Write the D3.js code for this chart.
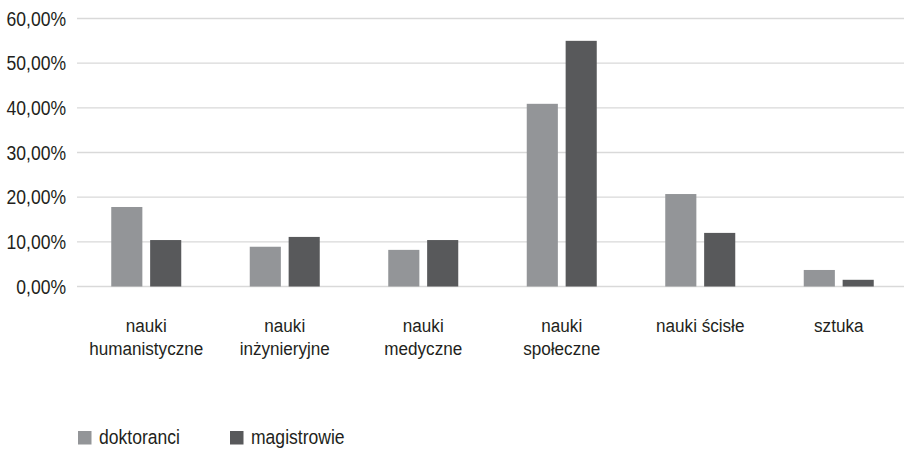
<!DOCTYPE html>
<html>
<head>
<meta charset="utf-8">
<script src="https://cdn.jsdelivr.net/npm/d3@7"></script>
<style>
  html, body { margin: 0; padding: 0; background: #fff; }
  svg text { font-family: "Liberation Sans", Arial, sans-serif; fill: #231f20; }
</style>
</head>
<body>
<svg id="chart" width="904" height="450"></svg>
<script>
// Category labels (each entry split into display lines)
const categories = [
  ["nauki", "humanistyczne"],
  ["nauki", "inżynieryjne"],
  ["nauki", "medyczne"],
  ["nauki", "społeczne"],
  ["nauki ścisłe"],
  ["sztuka"]
];
const seriesNames = ["doktoranci", "magistrowie"];
const doktoranci  = [17.8, 8.9, 8.2, 40.9, 20.7, 3.7];
const magistrowie = [10.4, 11.1, 10.4, 55.0, 12.0, 1.5];
const yTicks = [0, 10, 20, 30, 40, 50, 60];
const colors = ["#939598", "#58595b"];

const svg = d3.select("#chart");
const W = 904, H = 450;
const margin = { left: 77, right: -4, top: 18.5, bottom: 163.5 };
const plotBottom = H - margin.bottom;
const squeeze = 0.9;   // horizontal condensing of the label font
const fontSize = 19;

const catKeys = categories.map((c, i) => i);
const x0 = d3.scaleBand().domain(catKeys).range([margin.left, W - margin.right]);
const x1 = d3.scaleBand().domain([0, 1]).range([0, 70]).paddingInner(0.2);
const y = d3.scaleLinear().domain([0, 60]).range([plotBottom, margin.top]);

const fmt = v => d3.format(".2f")(v).replace(".", ",") + "%";

// Horizontal gridlines
svg.append("g")
  .selectAll("line")
  .data(yTicks)
  .join("line")
  .attr("x1", margin.left)
  .attr("x2", W)
  .attr("y1", d => y(d))
  .attr("y2", d => y(d))
  .attr("stroke", "#d9d9d9")
  .attr("stroke-width", 1.3);

// Y axis labels
svg.append("g")
  .selectAll("g")
  .data(yTicks)
  .join("g")
  .attr("transform", d => `translate(66,${y(d)}) scale(${squeeze},1)`)
  .append("text")
  .attr("dy", "0.36em")
  .attr("text-anchor", "end")
  .attr("font-size", fontSize + 0.5)
  .text(fmt);

// Bars
const series = [doktoranci, magistrowie];
const groups = svg.append("g")
  .selectAll("g")
  .data(catKeys)
  .join("g")
  .attr("transform", d => `translate(${x0(d) + (x0.bandwidth() - 70) / 2},0)`);

groups.selectAll("rect")
  .data(i => series.map((s, k) => ({ k, v: s[i] })))
  .join("rect")
  .attr("x", d => x1(d.k))
  .attr("width", x1.bandwidth())
  .attr("y", d => y(d.v))
  .attr("height", d => plotBottom - y(d.v))
  .attr("fill", d => colors[d.k]);

// Category labels
const labels = svg.append("g")
  .selectAll("g")
  .data(catKeys)
  .join("g")
  .attr("transform", d => `translate(${x0(d) + x0.bandwidth() / 2},331.5) scale(${squeeze},1)`)
  .append("text")
  .attr("text-anchor", "middle")
  .attr("font-size", fontSize);
labels.selectAll("tspan")
  .data(i => categories[i])
  .join("tspan")
  .attr("x", 0)
  .attr("dy", (d, j) => j === 0 ? 0 : 23.5)
  .text(d => d);

// Legend
const legendX = [78, 230];
const legend = svg.append("g")
  .selectAll("g")
  .data(seriesNames)
  .join("g")
  .attr("transform", (d, i) => `translate(${legendX[i]},431)`);
legend.append("rect")
  .attr("width", 13.5)
  .attr("height", 13.5)
  .attr("fill", (d, i) => colors[i]);
legend.append("g")
  .attr("transform", `translate(21,13) scale(${squeeze},1)`)
  .append("text")
  .attr("font-size", fontSize + 0.5)
  .text(d => d);
</script>
</body>
</html>
